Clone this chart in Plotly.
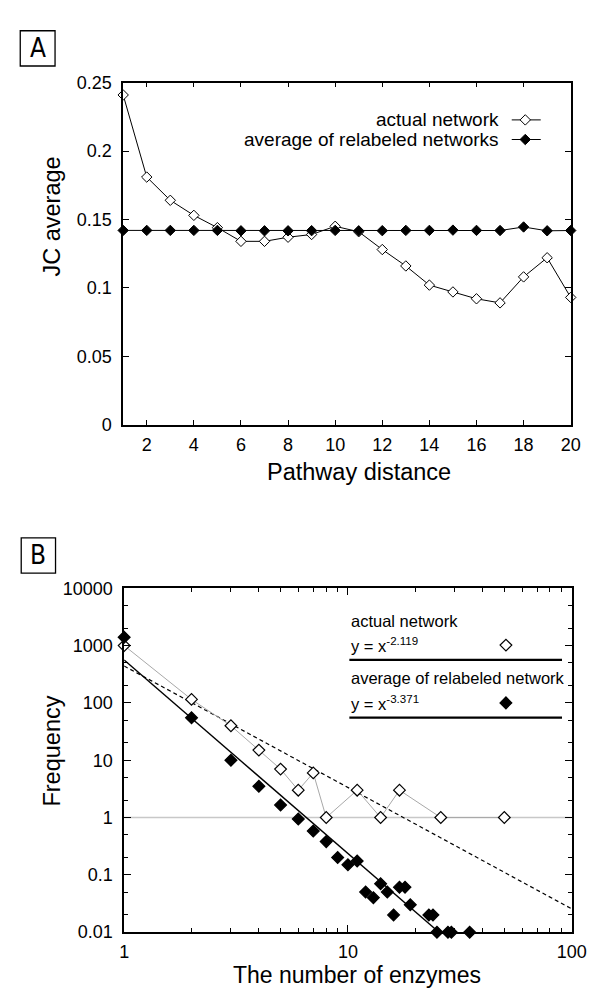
import plotly.graph_objects as go

W, H = 598, 991

# ---------------- Panel A data ----------------
pathway_distance = list(range(1, 21))
jc_actual = [0.241, 0.181, 0.164, 0.153, 0.144, 0.134, 0.134, 0.137, 0.139, 0.145,
             0.141, 0.128, 0.116, 0.102, 0.097, 0.092, 0.089, 0.108, 0.122, 0.093]
jc_relabeled = [0.142, 0.142, 0.142, 0.142, 0.142, 0.1417, 0.1417, 0.1417, 0.1418, 0.142,
                0.1417, 0.1418, 0.142, 0.142, 0.1422, 0.142, 0.1419, 0.1445, 0.1417, 0.1419]
a_xticks = [2, 4, 6, 8, 10, 12, 14, 16, 18, 20]
a_yticks = [0, 0.05, 0.1, 0.15, 0.2, 0.25]
a_yticktext = ["0", "0.05", "0.1", "0.15", "0.2", "0.25"]

# ---------------- Panel B data ----------------
enz_actual_x = [1, 2, 3, 4, 5, 6, 7, 8, 11, 14, 17, 26, 50]
freq_actual = [1000, 115, 40, 15, 7, 3, 6, 1, 3, 1, 3, 1, 1]
enz_relab_x = [1, 2, 3, 4, 5, 6, 7, 8, 9, 10, 11, 12, 13, 14, 15, 16, 17, 18, 19,
               23, 24, 25, 28, 29, 35]
freq_relab = [1400, 55, 10, 3.5, 1.65, 0.94, 0.58, 0.38, 0.2, 0.15, 0.175, 0.05, 0.04,
              0.07, 0.05, 0.02, 0.061, 0.061, 0.03, 0.02, 0.02, 0.01, 0.01, 0.01, 0.01]
fit_actual_x = [1, 100]
fit_actual_y = [440, 0.0255]
fit_relab_x = [1, 25]
fit_relab_y = [560, 0.0107]
ref_line_x = [1, 100]
ref_line_y = [1, 1]
b_xticks = [1, 10, 100]
b_xticktext = ["1", "10", "100"]
b_yticks = [0.01, 0.1, 1, 10, 100, 1000, 10000]
b_yticktext = ["0.01", "0.1", "1", "10", "100", "1000", "10000"]

FONT = "Liberation Sans, Arial, sans-serif"
NARROW = "Liberation Sans Narrow, DejaVu Sans Condensed, Arial Narrow, Liberation Sans, sans-serif"


def px_dom(a, b, total, flip=False):
    if flip:
        return [1 - b / total, 1 - a / total]
    return [a / total, b / total]


fig = go.Figure()

# Panel A traces
fig.add_trace(go.Scatter(
    x=pathway_distance, y=jc_actual, mode="lines+markers",
    line=dict(color="black", width=1),
    marker=dict(symbol="diamond", size=8, color="white", line=dict(color="black", width=1)),
    xaxis="x", yaxis="y", cliponaxis=False, showlegend=False))
fig.add_trace(go.Scatter(
    x=pathway_distance, y=jc_relabeled, mode="lines+markers",
    line=dict(color="black", width=1),
    marker=dict(symbol="diamond", size=8, color="black", line=dict(color="black", width=1)),
    xaxis="x", yaxis="y", cliponaxis=False, showlegend=False))

# Panel B traces
fig.add_trace(go.Scatter(
    x=ref_line_x, y=ref_line_y, mode="lines",
    line=dict(color="#c8c8c8", width=1.6),
    xaxis="x2", yaxis="y2", showlegend=False))
fig.add_trace(go.Scatter(
    x=fit_actual_x, y=fit_actual_y, mode="lines",
    line=dict(color="black", width=1.2, dash="4px,3px"),
    xaxis="x2", yaxis="y2", showlegend=False))
fig.add_trace(go.Scatter(
    x=fit_relab_x, y=fit_relab_y, mode="lines",
    line=dict(color="black", width=1.4),
    xaxis="x2", yaxis="y2", showlegend=False))
fig.add_trace(go.Scatter(
    x=enz_actual_x, y=freq_actual, mode="lines+markers",
    line=dict(color="#a8a8a8", width=1),
    marker=dict(symbol="diamond", size=9, color="white", line=dict(color="black", width=1.2)),
    xaxis="x2", yaxis="y2", cliponaxis=False, showlegend=False))
fig.add_trace(go.Scatter(
    x=enz_relab_x, y=freq_relab, mode="markers",
    marker=dict(symbol="diamond", size=9, color="black", line=dict(color="black", width=1.3)),
    xaxis="x2", yaxis="y2", cliponaxis=False, showlegend=False))

# Legend keys (decorations) on a pixel overlay axis
fig.add_trace(go.Scatter(
    x=[516, 546], y=[104, 104], mode="lines", line=dict(color="black", width=1),
    xaxis="x3", yaxis="y3", showlegend=False, hoverinfo="skip"))
fig.add_trace(go.Scatter(
    x=[516, 546], y=[124, 124], mode="lines", line=dict(color="black", width=1),
    xaxis="x3", yaxis="y3", showlegend=False, hoverinfo="skip"))
fig.add_trace(go.Scatter(
    x=[530], y=[104], mode="markers",
    marker=dict(symbol="diamond", size=8, color="white", line=dict(color="black", width=1)),
    xaxis="x3", yaxis="y3", showlegend=False, hoverinfo="skip"))
fig.add_trace(go.Scatter(
    x=[530], y=[124], mode="markers",
    marker=dict(symbol="diamond", size=8, color="black", line=dict(color="black", width=1)),
    xaxis="x3", yaxis="y3", showlegend=False, hoverinfo="skip"))
fig.add_trace(go.Scatter(
    x=[510], y=[640], mode="markers",
    marker=dict(symbol="diamond", size=9, color="white", line=dict(color="black", width=1.2)),
    xaxis="x3", yaxis="y3", showlegend=False, hoverinfo="skip"))
fig.add_trace(go.Scatter(
    x=[510], y=[699], mode="markers",
    marker=dict(symbol="diamond", size=9, color="black", line=dict(color="black", width=1.3)),
    xaxis="x3", yaxis="y3", showlegend=False, hoverinfo="skip"))

axis_common = dict(showline=True, linecolor="black", linewidth=1.5, mirror="ticks",
                   ticks="inside", tickcolor="black", showgrid=False, zeroline=False,
                   tickfont=dict(family=FONT, size=18, color="black"))

fig.update_layout(
    width=W, height=H, margin=dict(l=0, r=0, t=0, b=0),
    paper_bgcolor="white", plot_bgcolor="rgba(0,0,0,0)",
    font=dict(family=FONT, color="black"),
    xaxis=dict(domain=px_dom(114, 577, W), range=[1, 20], tickvals=a_xticks,
               ticklen=5, tickwidth=1, anchor="y", ticklabelstandoff=3, **axis_common),
    yaxis=dict(domain=px_dom(66, 415, H, flip=True), range=[0, 0.25], tickvals=a_yticks,
               ticktext=a_yticktext, ticklen=6, tickwidth=1, anchor="x",
               ticklabelstandoff=6, **axis_common),
    xaxis2=dict(domain=px_dom(115, 578, W), type="log", range=[0, 2], tickvals=b_xticks,
                ticktext=b_xticktext, ticklen=7, tickwidth=1, anchor="y2",
                ticklabelstandoff=2,
                minor=dict(ticks="inside", ticklen=4, tickcolor="black", dtick="D1",
                           showgrid=False),
                **axis_common),
    yaxis2=dict(domain=px_dom(582, 933, H, flip=True), type="log", range=[-2, 4],
                tickvals=b_yticks, ticktext=b_yticktext, ticklen=7, tickwidth=1,
                anchor="x2", ticklabelstandoff=6,
                minor=dict(ticks="inside", ticklen=4, tickcolor="black", dtick="D2",
                           showgrid=False),
                **axis_common),
    xaxis3=dict(domain=[0, 1], range=[0, W], visible=False, fixedrange=True, anchor="y3"),
    yaxis3=dict(domain=[0, 1], range=[H, 0], visible=False, fixedrange=True, anchor="x3"),
)

ann = []


def text(x, y, s, size, xanchor="center", yanchor="middle", angle=0, family=FONT):
    ann.append(dict(x=x, y=y, xref="x3", yref="y3", text=s, showarrow=False,
                    xanchor=xanchor, yanchor=yanchor, textangle=angle,
                    font=dict(family=family, size=size, color="black")))


# Axis titles
text(40, 203, "JC average", 23.5, angle=-90)
text(358, 463, "Pathway distance", 23.5)
text(40, 748, "Frequency", 23.5, angle=-90)
text(356, 977, "The number of enzymes", 23)

# Panel A legend text
text(505, 104, "actual network", 19, xanchor="right")
text(505, 124, "average of relabeled networks", 19, xanchor="right")

# Panel B legend text
text(348, 615, "actual network", 16.5, xanchor="left")
text(348, 640, "y = x<sup>-2.119</sup>", 16.5, xanchor="left")
text(348, 674, "average of relabeled network", 16.5, xanchor="left")
text(348, 699, "y = x<sup>-3.371</sup>", 16.5, xanchor="left")

# Panel labels
text(25.5, 31, "A", 26, family=NARROW)
text(26, 548.5, "B", 26, family=NARROW)

shapes = [
    dict(type="rect", xref="x3", yref="y3", x0=7.5, x1=43.5, y0=13, y1=49,
         line=dict(color="black", width=1.3)),
    dict(type="rect", xref="x3", yref="y3", x0=8.5, x1=44, y0=530.5, y1=566.5,
         line=dict(color="black", width=1.3)),
    dict(type="line", xref="x3", yref="y3", x0=348, x1=568, y0=655, y1=655,
         line=dict(color="black", width=2.2)),
    dict(type="line", xref="x3", yref="y3", x0=348, x1=568, y0=714, y1=714,
         line=dict(color="black", width=2.2)),
]

fig.update_layout(annotations=ann, shapes=shapes)

fig.write_html("out.html")
